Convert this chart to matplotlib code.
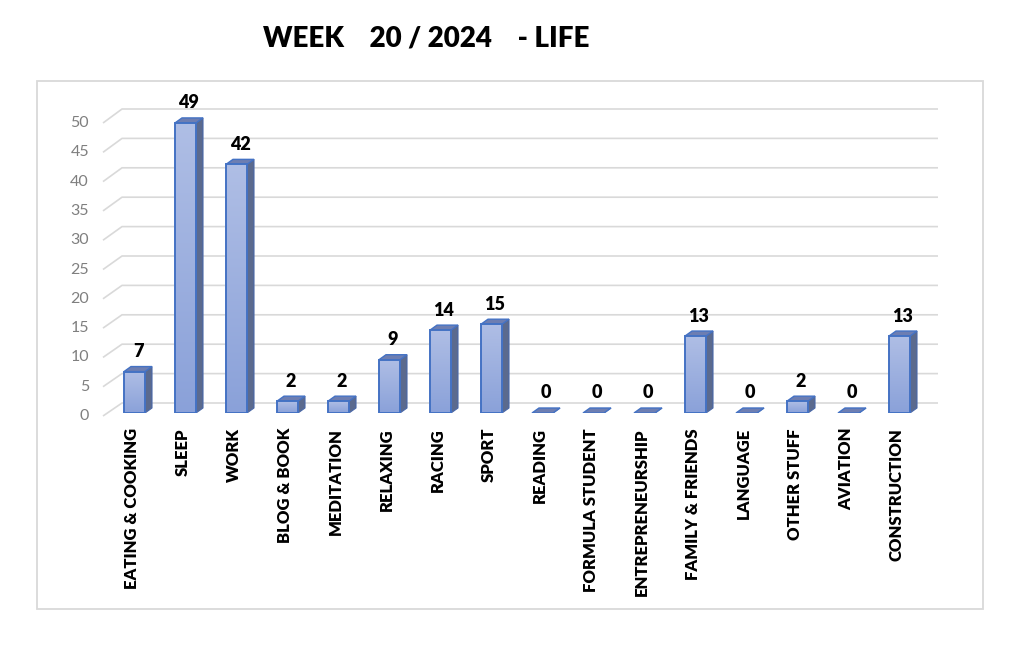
import numpy as np
import matplotlib
matplotlib.use("Agg")
import matplotlib.pyplot as plt
from matplotlib.patches import Rectangle, Polygon
from matplotlib.colors import LinearSegmentedColormap

plt.rcParams['font.family'] = ['Lato', 'DejaVu Sans']

# ---- data ----
categories = ["EATING & COOKING", "SLEEP", "WORK", "BLOG & BOOK", "MEDITATION",
              "RELAXING", "RACING", "SPORT", "READING", "FORMULA STUDENT",
              "ENTREPRENEURSHIP", "FAMILY & FRIENDS", "LANGUAGE", "OTHER STUFF",
              "AVIATION", "CONSTRUCTION"]
values = [7, 49, 42, 2, 2, 9, 14, 15, 0, 0, 0, 13, 0, 2, 0, 13]
yticks = [0, 5, 10, 15, 20, 25, 30, 35, 40, 45, 50]
title = "WEEK    20 / 2024    - LIFE"

# ---- geometry (pixels) ----
W, H = 1023, 663
PXX = 51.0      # px per category
PXY = 5.92      # px per unit
X0 = (103 - 134.5) / PXX
X1 = (919 - 134.5) / PXX
YTOP = 313 / PXY

fig = plt.figure(figsize=(W / 100, H / 100), dpi=100)
fig.patch.set_facecolor('white')
ax = fig.add_axes([103 / W, (H - 413) / H, (919 - 103) / W, 313 / H])
ax.set_xlim(X0, X1)
ax.set_ylim(0, YTOP)
ax.axis('off')

# outer border
fig.patches.append(Rectangle((37 / W, (H - 609) / H), (983 - 37) / W, (609 - 81) / H,
                             transform=fig.transFigure, fill=False,
                             edgecolor='#d9d9d9', lw=1.3))

# gridlines (side wall + back wall)
for t in yticks:
    fy = (-3 + 5.86 * t) / PXY
    by = (10 + 5.88 * t) / PXY
    bx = X0 + 19 / PXX
    ex = X0 + (938 - 103) / PXX
    ax.plot([X0, bx, ex], [fy, by, by], color='#d9d9d9', lw=1.2, zorder=0,
            clip_on=False, solid_capstyle='butt')
    ax.text(X0 - 14 / PXX, fy, str(t), ha='right', va='center',
            color='#7f7f7f', fontsize=11.5)

# bars
bw = 21 / PXX
dx = 7 / PXX
dy = 5 / PXY
cmap = LinearSegmentedColormap.from_list('bar', ['#8aa1d9', '#afbee5'])
grad = np.linspace(0, 1, 256).reshape(-1, 1)
edge = '#4472c4'
xs = np.arange(len(categories))
for x, v in zip(xs, values):
    l, r = x - bw / 2, x + bw / 2
    # side
    side = Polygon([(r, 0), (r + dx, dy), (r + dx, v + dy), (r, v)], closed=True,
                   facecolor='#5b6a8e', edgecolor='#4a68a8', lw=0.8, zorder=2)
    ax.add_patch(side)
    # top
    top = Polygon([(l, v), (r, v), (r + dx, v + dy), (l + dx, v + dy)], closed=True,
                  facecolor='#6d7eb2', edgecolor=edge, lw=1.0, zorder=3)
    ax.add_patch(top)
    if v > 0:
        rect = Rectangle((l, 0), bw, v, facecolor='none', edgecolor=edge, lw=1.4, zorder=4)
        ax.add_patch(rect)
        im = ax.imshow(grad, cmap=cmap, origin='lower', extent=[l, r, 0, v],
                       aspect='auto', zorder=3.5, interpolation='bilinear')
        im.set_clip_path(rect)
    # value label
    ax.text(x + dx / 2, v + dy + 15 / PXY, str(v), ha='center', va='center',
            fontsize=13, fontweight='heavy', color='black', zorder=5)
    # category label
    ax.text(x - 2.5 / PXX, -15 / PXY, categories[x], rotation=90, ha='center',
            va='top', fontsize=12, fontweight='heavy', color='black')

ax.set_xlim(X0, X1)
ax.set_ylim(0, YTOP)

fig.text(426 / W, 1 - 38 / H, title, ha='center', va='center',
         fontsize=20, fontweight='heavy', color='black')

fig.savefig('out.png', dpi=100, facecolor='white')
